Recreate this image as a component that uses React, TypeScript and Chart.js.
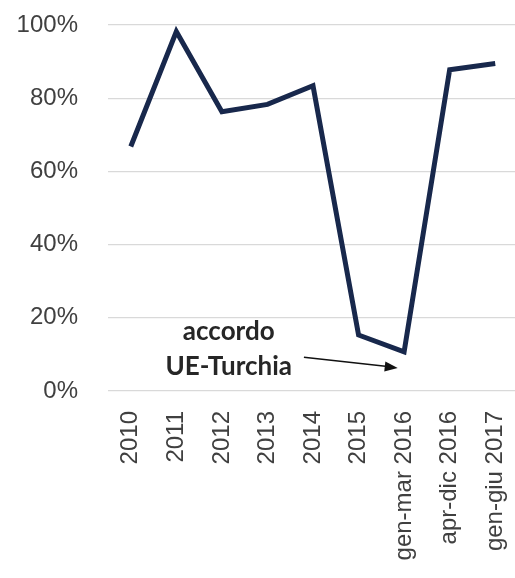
import React, { useEffect, useRef } from "react";
import { Chart, registerables } from "chart.js";

Chart.register(...registerables);

const categories = [
  "2010",
  "2011",
  "2012",
  "2013",
  "2014",
  "2015",
  "gen-mar 2016",
  "apr-dic 2016",
  "gen-giu 2017",
];
const values = [66.8, 98.2, 76.3, 78.3, 83.4, 15.3, 10.7, 87.8, 89.5];
const yTicks = [0, 20, 40, 60, 80, 100];
const annotationLines = ["accordo", "UE-Turchia"];

const annotationPlugin = {
  id: "annot",
  afterDatasetsDraw(chart: any) {
    const { ctx, scales } = chart;
    const x = scales.x;
    const y = scales.y;
    const cx = x.getPixelForValue(2.15);
    ctx.save();
    ctx.fillStyle = "#262626";
    ctx.font = "bold 26px Lato";
    ctx.textAlign = "center";
    ctx.textBaseline = "alphabetic";
    ctx.fillText(annotationLines[0], cx, y.getPixelForValue(14));
    ctx.fillText(annotationLines[1], cx, y.getPixelForValue(4.4));
    // arrow
    const x0 = x.getPixelForValue(3.8);
    const y0 = y.getPixelForValue(9.2);
    const x1 = x.getPixelForValue(5.86);
    const y1 = y.getPixelForValue(6.3);
    ctx.strokeStyle = "#111";
    ctx.lineWidth = 1.5;
    ctx.beginPath();
    ctx.moveTo(x0, y0);
    ctx.lineTo(x1 - 10, y1 - 1.4);
    ctx.stroke();
    const ang = Math.atan2(y1 - y0, x1 - x0);
    ctx.fillStyle = "#111";
    ctx.beginPath();
    ctx.moveTo(x1, y1);
    ctx.lineTo(x1 - 13 * Math.cos(ang) + 5 * Math.sin(ang), y1 - 13 * Math.sin(ang) - 5 * Math.cos(ang));
    ctx.lineTo(x1 - 13 * Math.cos(ang) - 5 * Math.sin(ang), y1 - 13 * Math.sin(ang) + 5 * Math.cos(ang));
    ctx.closePath();
    ctx.fill();
    ctx.restore();
  },
};

export default function App() {
  const ref = useRef<HTMLCanvasElement>(null);
  useEffect(() => {
    if (!ref.current) return;
    const chart = new Chart(ref.current, {
      type: "line",
      data: {
        labels: categories,
        datasets: [
          {
            data: values,
            borderColor: "#18284c",
            borderWidth: 5,
            borderJoinStyle: "miter",
            pointRadius: 0,
            tension: 0,
            fill: false,
          },
        ],
      },
      options: {
        animation: false,
        responsive: false,
        maintainAspectRatio: false,
        layout: { padding: { top: 25, left: 0, right: 2, bottom: 0 } },
        plugins: { legend: { display: false }, tooltip: { enabled: false } },
        scales: {
          x: {
            offset: true,
            grid: { display: false, drawTicks: false },
            border: { display: false },
            ticks: {
              minRotation: 90,
              maxRotation: 90,
              padding: 20,
              color: "#404040",
              font: { family: "Liberation Sans", size: 24 },
              autoSkip: false,
            },
            afterFit(s: any) {
              s.height = 187;
              s.paddingLeft = 0;
              s.paddingRight = 0;
            },
          },
          y: {
            min: 0,
            max: 100,
            afterBuildTicks(s: any) {
              s.ticks = yTicks.map((v) => ({ value: v }));
            },
            grid: { color: "#d9d9d9", lineWidth: 1.3, drawTicks: false },
            border: { display: false },
            ticks: {
              padding: 30,
              color: "#404040",
              font: { family: "Liberation Sans", size: 24 },
              callback: (v: any) => v + "%",
            },
            afterFit(s: any) {
              s.width = 108;
              s.paddingTop = 0;
              s.paddingBottom = 0;
            },
          },
        },
      },
      plugins: [annotationPlugin],
    });
    return () => chart.destroy();
  }, []);
  return (
    <div
      style={{
        position: "fixed",
        left: 0,
        top: 0,
        width: 515,
        height: 578,
        overflow: "hidden",
        background: "#fff",
      }}
    >
      <canvas ref={ref} width={520} height={578} style={{ width: 520, height: 578 }} />
    </div>
  );
}
